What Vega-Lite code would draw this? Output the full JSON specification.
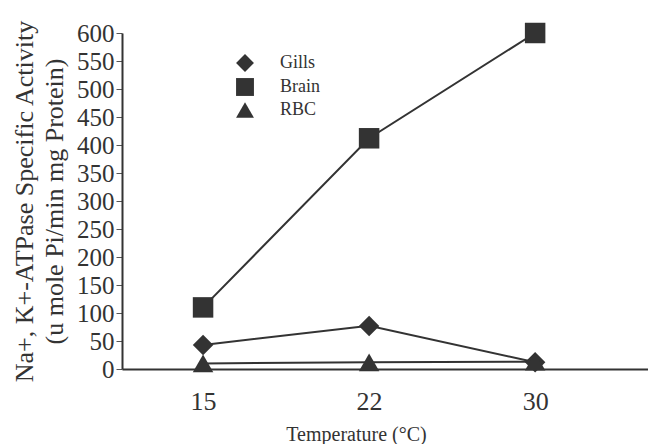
{
  "$schema": "https://vega.github.io/schema/vega-lite/v6.json",
  "autosize": "none",
  "width": 526,
  "height": 336,
  "padding": {"left": 122, "top": 33, "right": 0, "bottom": 75},
  "background": "white",
  "config": {
    "view": {"stroke": null},
    "font": "Liberation Serif"
  },
  "data": {
    "values": [
      {"temp": "15", "tissue": "Gills", "activity": 43},
      {"temp": "22", "tissue": "Gills", "activity": 77},
      {"temp": "30", "tissue": "Gills", "activity": 12},
      {"temp": "15", "tissue": "Brain", "activity": 110},
      {"temp": "22", "tissue": "Brain", "activity": 412},
      {"temp": "30", "tissue": "Brain", "activity": 600},
      {"temp": "15", "tissue": "RBC", "activity": 10},
      {"temp": "22", "tissue": "RBC", "activity": 12},
      {"temp": "30", "tissue": "RBC", "activity": 13}
    ]
  },
  "encoding": {
    "x": {
      "field": "temp",
      "type": "ordinal",
      "scale": {"type": "point", "padding": 0.584, "align": 0.418},
      "axis": {
        "title": "Temperature (°C)",
        "titleFont": "Liberation Serif",
        "titleFontSize": 20,
        "titleFontWeight": "normal",
        "titleColor": "#333",
        "titlePadding": 10,
        "titleX": 234,
        "titleAlign": "center",
        "titleAnchor": null,
        "labelAngle": 0,
        "labelFont": "Liberation Serif",
        "labelFontSize": 26,
        "labelColor": "#333",
        "labelPadding": 19,
        "ticks": false,
        "domainColor": "#333",
        "domainWidth": 2,
        "grid": false
      }
    },
    "y": {
      "field": "activity",
      "type": "quantitative",
      "scale": {"domain": [0, 600], "nice": false},
      "axis": {
        "title": ["Na+, K+-ATPase Specific Activity", "(u mole Pi/min mg Protein)"],
        "titleFont": "Liberation Serif",
        "titleFontSize": 26,
        "titleFontWeight": "normal",
        "titleColor": "#333",
        "titlePadding": 9,
        "titleLineHeight": 30,
        "values": [0, 50, 100, 150, 200, 250, 300, 350, 400, 450, 500, 550, 600],
        "labelFont": "Liberation Serif",
        "labelFontSize": 25,
        "labelColor": "#333",
        "labelPadding": 2,
        "tickSize": 6,
        "tickColor": "#555",
        "domainColor": "#333",
        "domainWidth": 2,
        "grid": false
      }
    }
  },
  "layer": [
    {
      "mark": {"type": "line", "color": "#333", "strokeWidth": 2},
      "encoding": {"detail": {"field": "tissue"}}
    },
    {
      "mark": {"type": "point", "filled": true, "opacity": 1, "color": "#333", "size": 420},
      "encoding": {
        "shape": {
          "field": "tissue",
          "type": "nominal",
          "scale": {"domain": ["Gills", "Brain", "RBC"], "range": ["diamond", "square", "triangle-up"]},
          "legend": {
            "title": null,
            "orient": "none",
            "legendX": 113,
            "legendY": 20,
            "labelFont": "Liberation Serif",
            "labelFontSize": 18,
            "labelColor": "#333",
            "labelOffset": 25,
            "symbolSize": 320,
            "symbolFillColor": "#333",
            "symbolStrokeColor": "#333",
            "rowPadding": 0
          }
        }
      }
    }
  ]
}
